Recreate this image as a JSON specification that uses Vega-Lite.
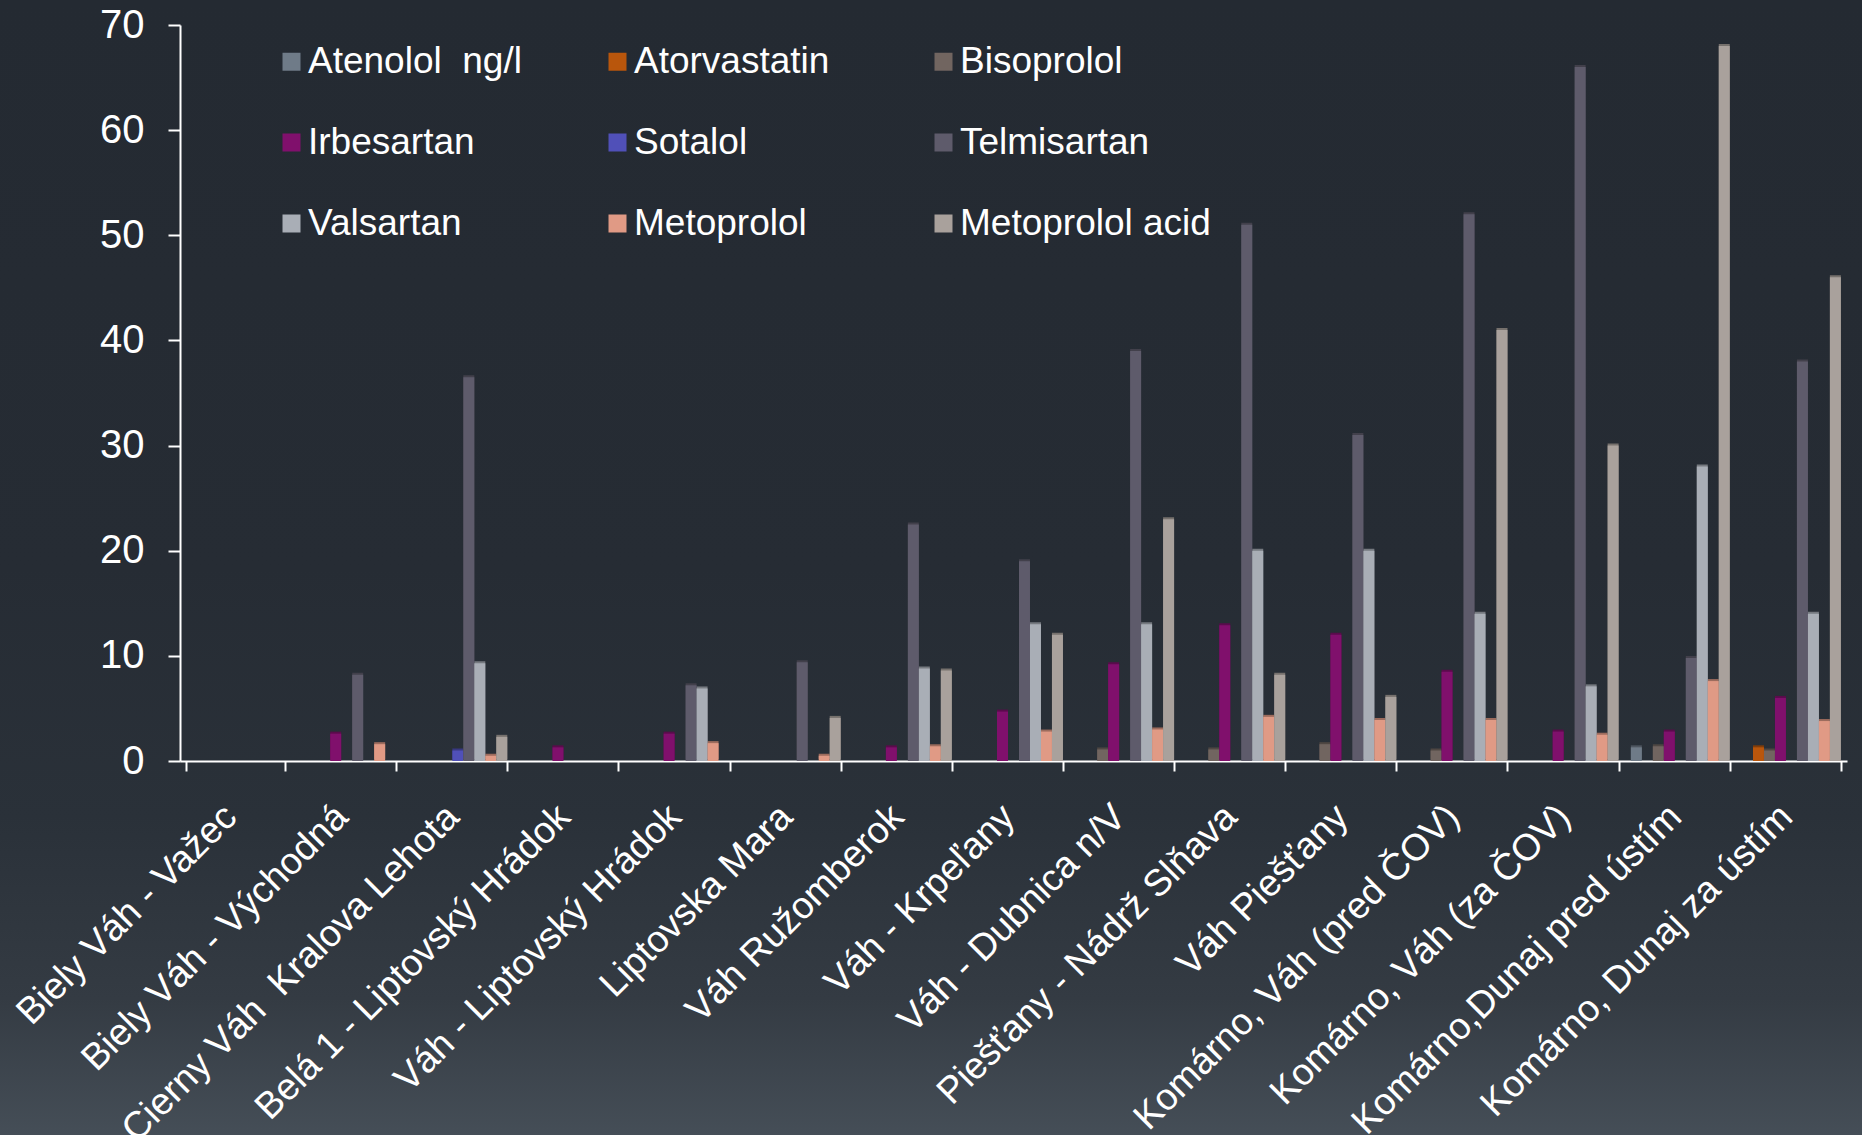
{
  "$schema": "https://vega.github.io/schema/vega-lite/v6.json",
  "width": 1862,
  "height": 1135,
  "autosize": {"type": "none"},
  "padding": 0,
  "background": "#242a32",
  "config": {
    "view": {
      "stroke": null,
      "fill": {
        "gradient": "linear",
        "x1": 0, "y1": 0, "x2": 0, "y2": 1,
        "stops": [
          {"offset": 0, "color": "#242a32"},
          {"offset": 0.5, "color": "#262c34"},
          {"offset": 0.72, "color": "#2a3139"},
          {"offset": 0.88, "color": "#343b43"},
          {"offset": 1, "color": "#454e57"}
        ]
      }
    },
    "font": "Liberation Sans"
  },
  "data": {
    "values": [
      {"site": "Biely Váh - Važec", "drug": "Atenolol\u00a0 ng/l", "value": 0},
      {"site": "Biely Váh - Važec", "drug": "Atorvastatin", "value": 0},
      {"site": "Biely Váh - Važec", "drug": "Bisoprolol", "value": 0},
      {"site": "Biely Váh - Važec", "drug": "Irbesartan", "value": 0},
      {"site": "Biely Váh - Važec", "drug": "Sotalol", "value": 0},
      {"site": "Biely Váh - Važec", "drug": "Telmisartan", "value": 0},
      {"site": "Biely Váh - Važec", "drug": "Valsartan", "value": 0},
      {"site": "Biely Váh - Važec", "drug": "Metoprolol", "value": 0},
      {"site": "Biely Váh - Važec", "drug": "Metoprolol acid", "value": 0},

      {"site": "Biely Váh - Východná", "drug": "Atenolol\u00a0 ng/l", "value": 0},
      {"site": "Biely Váh - Východná", "drug": "Atorvastatin", "value": 0},
      {"site": "Biely Váh - Východná", "drug": "Bisoprolol", "value": 0},
      {"site": "Biely Váh - Východná", "drug": "Irbesartan", "value": 2.6},
      {"site": "Biely Váh - Východná", "drug": "Sotalol", "value": 0},
      {"site": "Biely Váh - Východná", "drug": "Telmisartan", "value": 8.2},
      {"site": "Biely Váh - Východná", "drug": "Valsartan", "value": 0},
      {"site": "Biely Váh - Východná", "drug": "Metoprolol", "value": 1.6},
      {"site": "Biely Váh - Východná", "drug": "Metoprolol acid", "value": 0},

      {"site": "Cierny Váh\u00a0 Kralova Lehota", "drug": "Atenolol\u00a0 ng/l", "value": 0},
      {"site": "Cierny Váh\u00a0 Kralova Lehota", "drug": "Atorvastatin", "value": 0},
      {"site": "Cierny Váh\u00a0 Kralova Lehota", "drug": "Bisoprolol", "value": 0},
      {"site": "Cierny Váh\u00a0 Kralova Lehota", "drug": "Irbesartan", "value": 0},
      {"site": "Cierny Váh\u00a0 Kralova Lehota", "drug": "Sotalol", "value": 1.0},
      {"site": "Cierny Váh\u00a0 Kralova Lehota", "drug": "Telmisartan", "value": 36.5},
      {"site": "Cierny Váh\u00a0 Kralova Lehota", "drug": "Valsartan", "value": 9.3},
      {"site": "Cierny Váh\u00a0 Kralova Lehota", "drug": "Metoprolol", "value": 0.5},
      {"site": "Cierny Váh\u00a0 Kralova Lehota", "drug": "Metoprolol acid", "value": 2.3},

      {"site": "Belá 1 - Liptovský Hrádok", "drug": "Atenolol\u00a0 ng/l", "value": 0},
      {"site": "Belá 1 - Liptovský Hrádok", "drug": "Atorvastatin", "value": 0},
      {"site": "Belá 1 - Liptovský Hrádok", "drug": "Bisoprolol", "value": 0},
      {"site": "Belá 1 - Liptovský Hrádok", "drug": "Irbesartan", "value": 1.3},
      {"site": "Belá 1 - Liptovský Hrádok", "drug": "Sotalol", "value": 0},
      {"site": "Belá 1 - Liptovský Hrádok", "drug": "Telmisartan", "value": 0},
      {"site": "Belá 1 - Liptovský Hrádok", "drug": "Valsartan", "value": 0},
      {"site": "Belá 1 - Liptovský Hrádok", "drug": "Metoprolol", "value": 0},
      {"site": "Belá 1 - Liptovský Hrádok", "drug": "Metoprolol acid", "value": 0},

      {"site": "Váh - Liptovský Hrádok", "drug": "Atenolol\u00a0 ng/l", "value": 0},
      {"site": "Váh - Liptovský Hrádok", "drug": "Atorvastatin", "value": 0},
      {"site": "Váh - Liptovský Hrádok", "drug": "Bisoprolol", "value": 0},
      {"site": "Váh - Liptovský Hrádok", "drug": "Irbesartan", "value": 2.6},
      {"site": "Váh - Liptovský Hrádok", "drug": "Sotalol", "value": 0},
      {"site": "Váh - Liptovský Hrádok", "drug": "Telmisartan", "value": 7.2},
      {"site": "Váh - Liptovský Hrádok", "drug": "Valsartan", "value": 6.9},
      {"site": "Váh - Liptovský Hrádok", "drug": "Metoprolol", "value": 1.7},
      {"site": "Váh - Liptovský Hrádok", "drug": "Metoprolol acid", "value": 0},

      {"site": "Liptovska Mara", "drug": "Atenolol\u00a0 ng/l", "value": 0},
      {"site": "Liptovska Mara", "drug": "Atorvastatin", "value": 0},
      {"site": "Liptovska Mara", "drug": "Bisoprolol", "value": 0},
      {"site": "Liptovska Mara", "drug": "Irbesartan", "value": 0},
      {"site": "Liptovska Mara", "drug": "Sotalol", "value": 0},
      {"site": "Liptovska Mara", "drug": "Telmisartan", "value": 9.4},
      {"site": "Liptovska Mara", "drug": "Valsartan", "value": 0},
      {"site": "Liptovska Mara", "drug": "Metoprolol", "value": 0.5},
      {"site": "Liptovska Mara", "drug": "Metoprolol acid", "value": 4.1},

      {"site": "Váh Ružomberok", "drug": "Atenolol\u00a0 ng/l", "value": 0},
      {"site": "Váh Ružomberok", "drug": "Atorvastatin", "value": 0},
      {"site": "Váh Ružomberok", "drug": "Bisoprolol", "value": 0},
      {"site": "Váh Ružomberok", "drug": "Irbesartan", "value": 1.3},
      {"site": "Váh Ružomberok", "drug": "Sotalol", "value": 0},
      {"site": "Váh Ružomberok", "drug": "Telmisartan", "value": 22.5},
      {"site": "Váh Ružomberok", "drug": "Valsartan", "value": 8.8},
      {"site": "Váh Ružomberok", "drug": "Metoprolol", "value": 1.4},
      {"site": "Váh Ružomberok", "drug": "Metoprolol acid", "value": 8.6},

      {"site": "Váh - Krpeľany", "drug": "Atenolol\u00a0 ng/l", "value": 0},
      {"site": "Váh - Krpeľany", "drug": "Atorvastatin", "value": 0},
      {"site": "Váh - Krpeľany", "drug": "Bisoprolol", "value": 0},
      {"site": "Váh - Krpeľany", "drug": "Irbesartan", "value": 4.7},
      {"site": "Váh - Krpeľany", "drug": "Sotalol", "value": 0},
      {"site": "Váh - Krpeľany", "drug": "Telmisartan", "value": 19.0},
      {"site": "Váh - Krpeľany", "drug": "Valsartan", "value": 13.0},
      {"site": "Váh - Krpeľany", "drug": "Metoprolol", "value": 2.8},
      {"site": "Váh - Krpeľany", "drug": "Metoprolol acid", "value": 12.0},

      {"site": "Váh - Dubnica n/V", "drug": "Atenolol\u00a0 ng/l", "value": 0},
      {"site": "Váh - Dubnica n/V", "drug": "Atorvastatin", "value": 0},
      {"site": "Váh - Dubnica n/V", "drug": "Bisoprolol", "value": 1.1},
      {"site": "Váh - Dubnica n/V", "drug": "Irbesartan", "value": 9.2},
      {"site": "Váh - Dubnica n/V", "drug": "Sotalol", "value": 0},
      {"site": "Váh - Dubnica n/V", "drug": "Telmisartan", "value": 39.0},
      {"site": "Váh - Dubnica n/V", "drug": "Valsartan", "value": 13.0},
      {"site": "Váh - Dubnica n/V", "drug": "Metoprolol", "value": 3.0},
      {"site": "Váh - Dubnica n/V", "drug": "Metoprolol acid", "value": 23.0},

      {"site": "Piešťany - Nádrž Slňava", "drug": "Atenolol\u00a0 ng/l", "value": 0},
      {"site": "Piešťany - Nádrž Slňava", "drug": "Atorvastatin", "value": 0},
      {"site": "Piešťany - Nádrž Slňava", "drug": "Bisoprolol", "value": 1.1},
      {"site": "Piešťany - Nádrž Slňava", "drug": "Irbesartan", "value": 12.9},
      {"site": "Piešťany - Nádrž Slňava", "drug": "Sotalol", "value": 0},
      {"site": "Piešťany - Nádrž Slňava", "drug": "Telmisartan", "value": 51.0},
      {"site": "Piešťany - Nádrž Slňava", "drug": "Valsartan", "value": 20.0},
      {"site": "Piešťany - Nádrž Slňava", "drug": "Metoprolol", "value": 4.2},
      {"site": "Piešťany - Nádrž Slňava", "drug": "Metoprolol acid", "value": 8.2},

      {"site": "Váh Piešťany", "drug": "Atenolol\u00a0 ng/l", "value": 0},
      {"site": "Váh Piešťany", "drug": "Atorvastatin", "value": 0},
      {"site": "Váh Piešťany", "drug": "Bisoprolol", "value": 1.6},
      {"site": "Váh Piešťany", "drug": "Irbesartan", "value": 12.0},
      {"site": "Váh Piešťany", "drug": "Sotalol", "value": 0},
      {"site": "Váh Piešťany", "drug": "Telmisartan", "value": 31.0},
      {"site": "Váh Piešťany", "drug": "Valsartan", "value": 20.0},
      {"site": "Váh Piešťany", "drug": "Metoprolol", "value": 3.9},
      {"site": "Váh Piešťany", "drug": "Metoprolol acid", "value": 6.1},

      {"site": "Komárno, Váh (pred ČOV)", "drug": "Atenolol\u00a0 ng/l", "value": 0},
      {"site": "Komárno, Váh (pred ČOV)", "drug": "Atorvastatin", "value": 0},
      {"site": "Komárno, Váh (pred ČOV)", "drug": "Bisoprolol", "value": 1.0},
      {"site": "Komárno, Váh (pred ČOV)", "drug": "Irbesartan", "value": 8.5},
      {"site": "Komárno, Váh (pred ČOV)", "drug": "Sotalol", "value": 0},
      {"site": "Komárno, Váh (pred ČOV)", "drug": "Telmisartan", "value": 52.0},
      {"site": "Komárno, Váh (pred ČOV)", "drug": "Valsartan", "value": 14.0},
      {"site": "Komárno, Váh (pred ČOV)", "drug": "Metoprolol", "value": 3.9},
      {"site": "Komárno, Váh (pred ČOV)", "drug": "Metoprolol acid", "value": 41.0},

      {"site": "Komárno, Váh (za ČOV)", "drug": "Atenolol\u00a0 ng/l", "value": 0},
      {"site": "Komárno, Váh (za ČOV)", "drug": "Atorvastatin", "value": 0},
      {"site": "Komárno, Váh (za ČOV)", "drug": "Bisoprolol", "value": 0},
      {"site": "Komárno, Váh (za ČOV)", "drug": "Irbesartan", "value": 2.8},
      {"site": "Komárno, Váh (za ČOV)", "drug": "Sotalol", "value": 0},
      {"site": "Komárno, Váh (za ČOV)", "drug": "Telmisartan", "value": 66.0},
      {"site": "Komárno, Váh (za ČOV)", "drug": "Valsartan", "value": 7.1},
      {"site": "Komárno, Váh (za ČOV)", "drug": "Metoprolol", "value": 2.5},
      {"site": "Komárno, Váh (za ČOV)", "drug": "Metoprolol acid", "value": 30.0},

      {"site": "Komárno,Dunaj pred ústím", "drug": "Atenolol\u00a0 ng/l", "value": 1.3},
      {"site": "Komárno,Dunaj pred ústím", "drug": "Atorvastatin", "value": 0},
      {"site": "Komárno,Dunaj pred ústím", "drug": "Bisoprolol", "value": 1.4},
      {"site": "Komárno,Dunaj pred ústím", "drug": "Irbesartan", "value": 2.8},
      {"site": "Komárno,Dunaj pred ústím", "drug": "Sotalol", "value": 0},
      {"site": "Komárno,Dunaj pred ústím", "drug": "Telmisartan", "value": 9.8},
      {"site": "Komárno,Dunaj pred ústím", "drug": "Valsartan", "value": 28.0},
      {"site": "Komárno,Dunaj pred ústím", "drug": "Metoprolol", "value": 7.6},
      {"site": "Komárno,Dunaj pred ústím", "drug": "Metoprolol acid", "value": 68.0},

      {"site": "Komárno, Dunaj za ústím", "drug": "Atenolol\u00a0 ng/l", "value": 0},
      {"site": "Komárno, Dunaj za ústím", "drug": "Atorvastatin", "value": 1.3},
      {"site": "Komárno, Dunaj za ústím", "drug": "Bisoprolol", "value": 1.0},
      {"site": "Komárno, Dunaj za ústím", "drug": "Irbesartan", "value": 6.0},
      {"site": "Komárno, Dunaj za ústím", "drug": "Sotalol", "value": 0},
      {"site": "Komárno, Dunaj za ústím", "drug": "Telmisartan", "value": 38.0},
      {"site": "Komárno, Dunaj za ústím", "drug": "Valsartan", "value": 14.0},
      {"site": "Komárno, Dunaj za ústím", "drug": "Metoprolol", "value": 3.8},
      {"site": "Komárno, Dunaj za ústím", "drug": "Metoprolol acid", "value": 46.0}
    ]
  },
  "encoding": {
    "x": {
      "field": "site",
      "type": "nominal",
      "sort": null,
      "scale": {"range": [180, 1847], "paddingInner": 0.11, "paddingOuter": 0.055},
      "axis": {
        "title": null,
        "offset": -374,
        "labelAngle": -45,
        "labelAlign": "right",
        "labelBaseline": "middle",
        "labelFontSize": 37.5,
        "labelColor": "#ffffff",
        "labelPadding": 40,
        "labelOffset": -5,
        "labelLimit": 0,
        "labelOverlap": false,
        "labelBound": false,
        "tickBand": "extent",
        "tickSize": 10,
        "tickWidth": 2,
        "tickColor": "#ffffff",
        "domainColor": "#ffffff",
        "domainWidth": 2
      }
    },
    "xOffset": {
      "field": "drug",
      "type": "nominal",
      "scale": {
        "domain": ["Atenolol\u00a0 ng/l", "Atorvastatin", "Bisoprolol", "Irbesartan", "Sotalol", "Telmisartan", "Valsartan", "Metoprolol", "Metoprolol acid"],
        "paddingInner": 0
      }
    },
    "y": {
      "field": "value",
      "type": "quantitative",
      "scale": {"domain": [0, 70], "range": [761, 25]},
      "axis": {
        "title": null,
        "offset": -180,
        "values": [0, 10, 20, 30, 40, 50, 60, 70],
        "grid": false,
        "labelFontSize": 40,
        "labelColor": "#ffffff",
        "labelPadding": 24,
        "tickSize": 12,
        "tickWidth": 2,
        "tickColor": "#ffffff",
        "domainColor": "#ffffff",
        "domainWidth": 2
      }
    }
  },
  "layer": [
    {
      "description": "shaded side face behind each bar, giving the columns depth",
      "mark": {"type": "bar", "xOffset": 7, "yOffset": -2},
      "encoding": {
        "color": {
          "field": "drug",
          "type": "nominal",
          "scale": {
            "domain": ["Atenolol\u00a0 ng/l", "Atorvastatin", "Bisoprolol", "Irbesartan", "Sotalol", "Telmisartan", "Valsartan", "Metoprolol", "Metoprolol acid"],
            "range": ["#4e5660", "#823c08", "#4f4743", "#5a0b4c", "#383881", "#42404b", "#767a80", "#9d6c5d", "#76716d"]
          },
          "legend": null
        }
      }
    },
    {
      "mark": {"type": "bar", "xOffset": 4},
      "encoding": {
        "color": {
          "field": "drug",
          "type": "nominal",
          "scale": {
            "domain": ["Atenolol\u00a0 ng/l", "Atorvastatin", "Bisoprolol", "Irbesartan", "Sotalol", "Telmisartan", "Valsartan", "Metoprolol", "Metoprolol acid"],
            "range": ["#6f7b88", "#b9560c", "#716560", "#80106c", "#5050b8", "#5e5b6b", "#a9aeb6", "#e09a85", "#a9a19c"]
          },
          "legend": {
            "title": null,
            "orient": "none",
            "legendX": 273,
            "legendY": 43,
            "direction": "horizontal",
            "columns": 3,
            "gridAlign": "all",
            "columnPadding": 40,
            "rowPadding": 43,
            "padding": 0,
            "symbolType": "square",
            "symbolSize": 324,
            "symbolStrokeWidth": 0,
            "labelFontSize": 37,
            "labelColor": "#ffffff",
            "labelOffset": -2,
            "labelLimit": 0
          }
        }
      }
    }
  ],
  "resolve": {"scale": {"color": "independent"}}
}
